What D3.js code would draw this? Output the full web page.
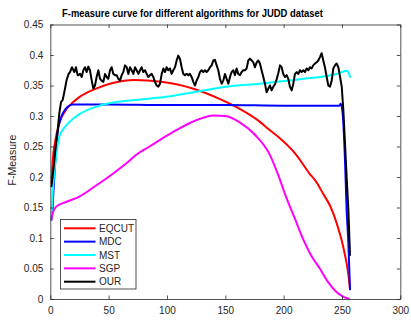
<!DOCTYPE html>
<html><head><meta charset="utf-8">
<script src="https://cdn.jsdelivr.net/npm/d3@7"></script>
<style>
html,body{margin:0;padding:0;background:#fff;}
svg{display:block;font-family:Arial,"Liberation Sans",sans-serif;}
</style></head>
<body><svg id="c" width="411" height="323"></svg>
<script>
const seriesNames = ["EQCUT","MDC","MST","SGP","OUR"];
const seriesColors = ["#ff0000","#0000ff","#00ffff","#ff00ff","#000000"];
const xTicks = [0,50,100,150,200,250,300];
const yTicks = [0,0.05,0.1,0.15,0.2,0.25,0.3,0.35,0.4,0.45];
const yTickLabels = ["0","0.05","0.1","0.15","0.2","0.25","0.3","0.35","0.4","0.45"];

const xEQCUT = [1,2,4.3,7.7,13.4,19.2,24.9,39.2,53.4,72,95,122,145,162,180,188,194,211,222,228,234,240,245.5,251,255.5,256.9];
const yEQCUT = [0.19,0.225,0.26,0.288,0.31,0.322,0.331,0.345,0.354,0.359,0.356,0.345,0.328,0.312,0.29,0.277,0.268,0.236,0.206,0.192,0.172,0.152,0.124,0.086,0.04,0.016];

const xMDC = [1,2,2.6,4,4.9,6.3,7.7,10.6,14.9,19.2,50,100,150,200,247.8,248.9,250.6,252.6,254,255.5,256.9];
const yMDC = [0.13,0.15,0.173,0.217,0.244,0.274,0.288,0.304,0.315,0.319,0.319,0.318,0.318,0.317,0.317,0.32,0.304,0.227,0.146,0.091,0.016];

const xMST = [1,2,3.4,4.9,7.7,10.6,16.3,24.9,39.2,53.4,70.6,98,122.6,151,180,217,245.4,254,255.5,256.9];
const yMST = [0.13,0.173,0.205,0.233,0.266,0.277,0.29,0.303,0.315,0.322,0.326,0.331,0.339,0.348,0.353,0.361,0.369,0.374,0.372,0.364];

const xSGP = [1,2,4.9,13.4,24.9,39.2,53.4,64.9,73.4,85,100,110,125,140,150,162,175,188,195,202,210,217,224,231,238,245,251,256];
const ySGP = [0.13,0.14,0.151,0.159,0.168,0.186,0.205,0.222,0.236,0.25,0.268,0.279,0.293,0.301,0.3,0.29,0.27,0.237,0.205,0.168,0.13,0.097,0.07,0.05,0.028,0.012,0.004,0];

const xOUR = [1,2.6,4.9,6,7.7,9.2,10.6,12,14,15.7,16.9,18.6,20.6,22,23.4,24,25.5,26.9,28.3,29.7,31.2,32.6,34,35.5,36.9,38.3,39.7,41.2,42.6,44,45.5,46.9,48.3,49.7,51.2,52.6,54,55.5,56.9,58.3,59.7,61.2,62.6,64,65.5,66.9,68.3,69.7,71.2,72.6,74,75.5,76.9,78.3,79.7,81.2,82.6,84,85.5,86.9,88.3,89.7,91.2,92.6,94,95.5,96.9,98.3,99.7,101.1,102.6,104,105.4,106.9,108.3,109.7,111.1,112.6,114,115.4,116.9,118.3,119.7,121.1,122.6,124,125.4,126.9,128.3,129.7,131.1,132.6,134,135.4,136.9,138.3,139.7,141.1,142.6,144,145.4,146.9,148.3,149.7,151.1,152.6,154,155.4,156.9,158.3,159.7,161.1,162.6,164,165.4,166.9,168.3,169.7,171.1,172.6,174,175.4,176.9,178.3,179.7,181.1,182.6,184,185.4,186.9,188.3,189.7,191.1,192.6,194,195.4,196.9,198.3,199.7,201.2,202.6,204,205.4,206.9,208.3,209.7,211.2,212.6,214,215.4,216.9,218.3,219.7,221.2,222.6,224,225.4,226.9,228.3,229.7,231.2,232.6,234,235.4,236.9,238.3,239.7,241.2,242.6,244,245.4,246.9,248.3,249.8,251.2,252.6,254,255.5,256.9];
const yOUR = [0.185,0.211,0.255,0.27,0.304,0.323,0.326,0.339,0.359,0.369,0.372,0.38,0.372,0.38,0.367,0.367,0.369,0.364,0.375,0.38,0.372,0.381,0.375,0.358,0.345,0.35,0.364,0.375,0.361,0.358,0.356,0.369,0.364,0.361,0.375,0.38,0.369,0.367,0.367,0.361,0.358,0.367,0.372,0.383,0.38,0.369,0.38,0.375,0.369,0.38,0.375,0.369,0.375,0.38,0.372,0.375,0.369,0.364,0.367,0.369,0.364,0.356,0.35,0.348,0.353,0.369,0.378,0.372,0.38,0.375,0.378,0.369,0.375,0.38,0.391,0.399,0.394,0.38,0.369,0.367,0.369,0.367,0.369,0.364,0.356,0.35,0.358,0.364,0.372,0.375,0.372,0.375,0.372,0.375,0.38,0.383,0.391,0.392,0.383,0.375,0.361,0.353,0.358,0.369,0.361,0.353,0.364,0.372,0.375,0.367,0.378,0.369,0.367,0.372,0.375,0.375,0.378,0.391,0.394,0.391,0.388,0.38,0.388,0.391,0.386,0.375,0.364,0.353,0.339,0.345,0.35,0.342,0.348,0.352,0.36,0.37,0.383,0.38,0.369,0.364,0.367,0.361,0.348,0.342,0.353,0.369,0.372,0.369,0.375,0.372,0.375,0.372,0.378,0.375,0.38,0.378,0.383,0.386,0.388,0.391,0.397,0.403,0.391,0.38,0.364,0.35,0.348,0.358,0.378,0.383,0.386,0.38,0.365,0.348,0.309,0.255,0.2,0.146,0.072];

const xs = [xEQCUT,xMDC,xMST,xSGP,xOUR];
const ys = [yEQCUT,yMDC,yMST,ySGP,yOUR];
const smooth = [true,true,true,true,false];

const L=50.3, R=400.3, T=24.5, B=299;
const svg = d3.select("#c");
const x = d3.scaleLinear().domain([0,300]).range([L,R]);
const y = d3.scaleLinear().domain([0,0.45]).range([B,T]);
const axCol = "#262626";

svg.append("clipPath").attr("id","pa").append("rect").attr("x",L).attr("y",T).attr("width",R-L).attr("height",B-T);

const g = svg.append("g").attr("clip-path","url(#pa)");
seriesNames.forEach((n,i)=>{
  const pts = xs[i].map((v,j)=>[v, ys[i][j]]);
  const line = d3.line().x(d=>x(d[0])).y(d=>y(d[1])).curve(smooth[i]?d3.curveMonotoneX:d3.curveLinear);
  g.append("path").attr("d",line(pts)).attr("fill","none").attr("stroke",seriesColors[i])
   .attr("stroke-width",2).attr("stroke-linejoin","round").attr("stroke-linecap","round");
});

const tl = 3.5;
const axBottom = d3.axisBottom(x).tickValues(xTicks).tickSizeInner(-tl).tickSizeOuter(0).tickPadding(8);
const axLeft = d3.axisLeft(y).tickValues(yTicks).tickFormat((d,i)=>yTickLabels[i]).tickSizeInner(-tl).tickSizeOuter(0).tickPadding(7);
const axTop = d3.axisTop(x).tickValues(xTicks).tickSizeInner(-tl).tickSizeOuter(0).tickFormat("");
const axRight = d3.axisRight(y).tickValues(yTicks).tickSizeInner(-tl).tickSizeOuter(0).tickFormat("");

function style(sel){
  sel.selectAll("path.domain").attr("stroke",axCol).attr("stroke-width",0.8);
  sel.selectAll(".tick line").attr("stroke",axCol).attr("stroke-width",0.8);
  sel.selectAll(".tick text").attr("fill",axCol).style("font-size","10px").style("font-family","Arial,'Liberation Sans',sans-serif");
}
style(svg.append("g").attr("transform",`translate(0,${B})`).call(axBottom));
style(svg.append("g").attr("transform",`translate(${L},0)`).call(axLeft));
style(svg.append("g").attr("transform",`translate(0,${T})`).call(axTop));
style(svg.append("g").attr("transform",`translate(${R},0)`).call(axRight));

svg.append("text").attr("x",62).attr("y",16.5)
  .attr("textLength",261).attr("lengthAdjust","spacingAndGlyphs")
  .style("font-size","10.5px").style("font-weight","bold").attr("fill","#000")
  .text("F-measure curve for different algorithms for JUDD dataset");

svg.append("text").attr("transform",`translate(16,160) rotate(-90)`).attr("text-anchor","middle")
  .style("font-size","10.5px").attr("fill",axCol).text("F-Measure");

const lg = svg.append("g");
lg.append("rect").attr("x",60.5).attr("y",219.5).attr("width",75.5).attr("height",69.5)
  .attr("fill","#fff").attr("stroke",axCol).attr("stroke-width",0.8);
seriesNames.forEach((n,i)=>{
  const yy = 228.3 + i*13.35;
  lg.append("line").attr("x1",64).attr("x2",95.5).attr("y1",yy).attr("y2",yy).attr("stroke",seriesColors[i]).attr("stroke-width",2);
  lg.append("text").attr("x",99).attr("y",yy+3.6).style("font-size","10px").attr("fill",axCol).text(n);
});
</script></body></html>
